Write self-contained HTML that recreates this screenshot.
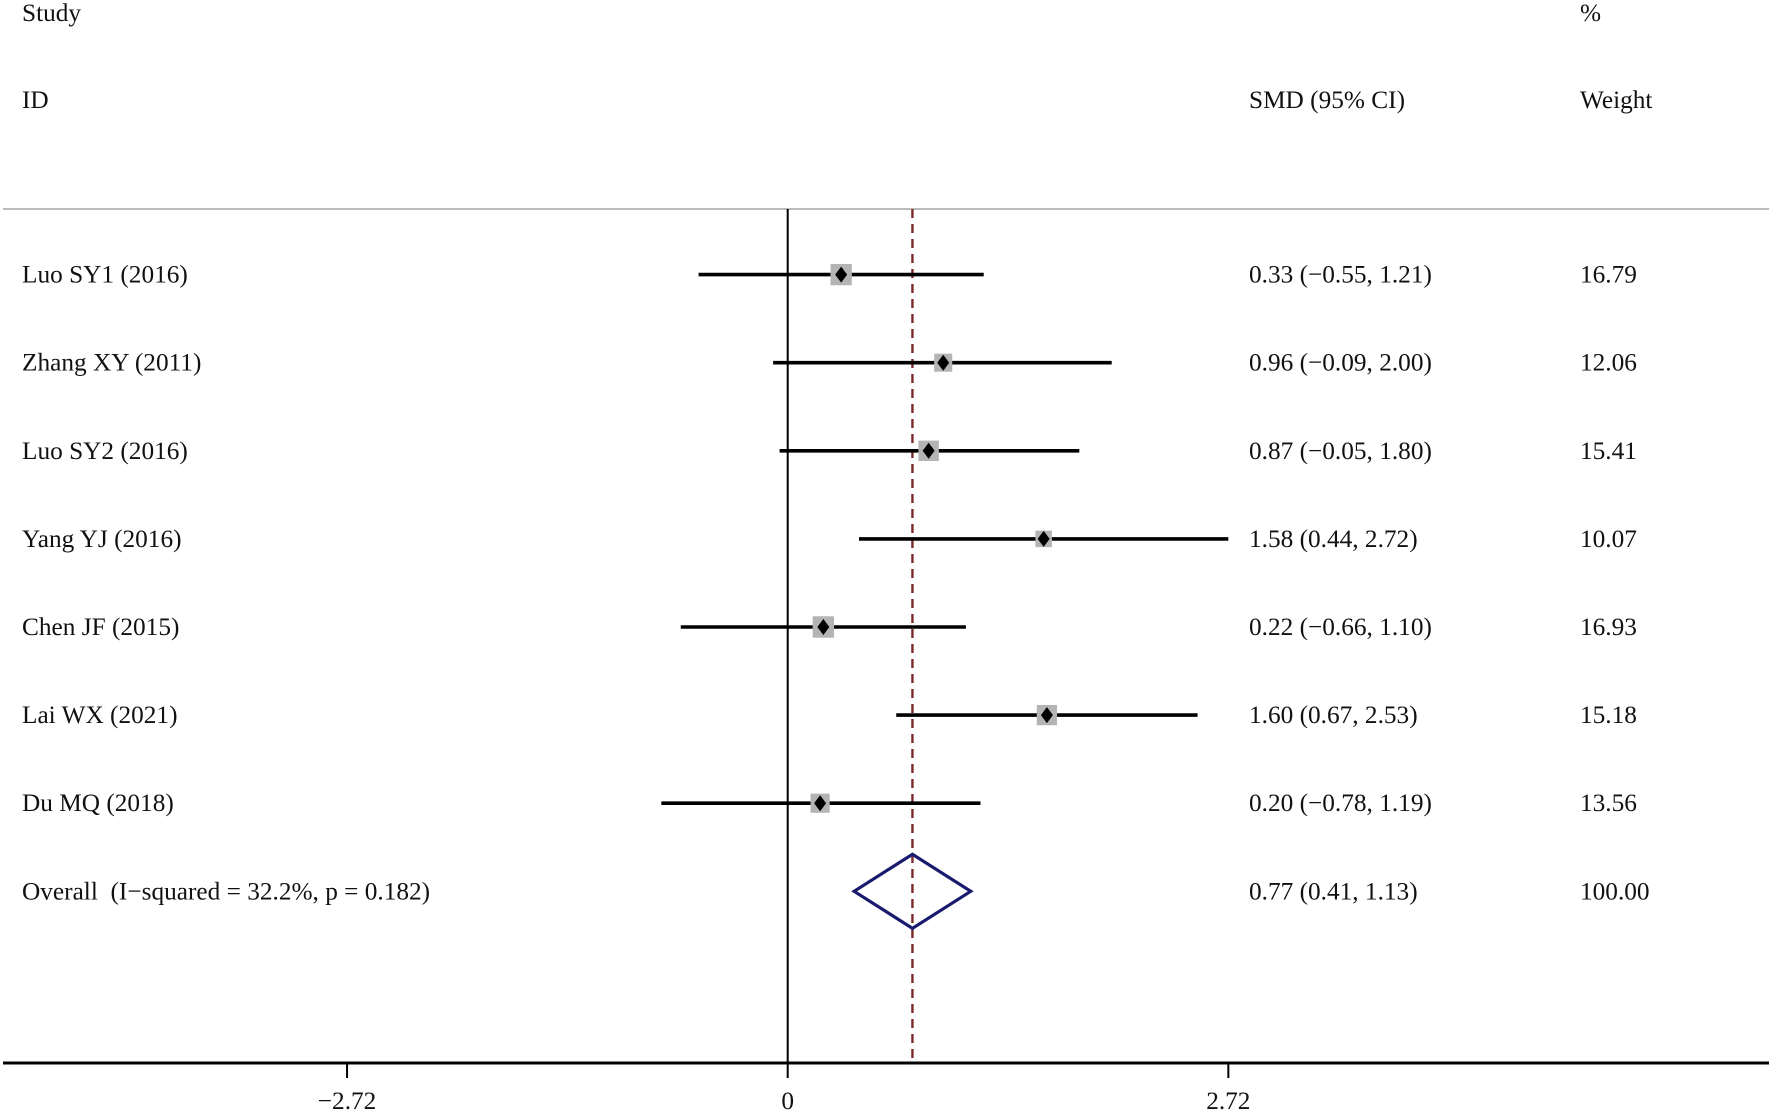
<!DOCTYPE html>
<html><head><meta charset="utf-8"><style>
html,body{margin:0;padding:0;background:#fff;}
svg{display:block;}
text{font-family:"Liberation Serif",serif;font-size:25.3px;fill:#111;}
</style></head><body>
<svg id="chart" width="1772" height="1113" viewBox="0 0 1772 1113">
<text x="22" y="21">Study</text>
<text x="22" y="108">ID</text>
<text x="1249" y="108">SMD (95% CI)</text>
<text x="1580" y="21">%</text>
<text x="1580" y="108">Weight</text>
<line x1="3" y1="209" x2="1769" y2="209" stroke="#bbb" stroke-width="2"/>
<g id="plot"></g>
</svg>
<script>
const studies=["Luo SY1 (2016)","Zhang XY (2011)","Luo SY2 (2016)","Yang YJ (2016)","Chen JF (2015)","Lai WX (2021)","Du MQ (2018)"];
const est=[0.33,0.96,0.87,1.58,0.22,1.60,0.20];
const lo=[-0.55,-0.09,-0.05,0.44,-0.66,0.67,-0.78];
const hi=[1.21,2.00,1.80,2.72,1.10,2.53,1.19];
const weights=["16.79","12.06","15.41","10.07","16.93","15.18","13.56"];
const ciText=["0.33 (\u22120.55, 1.21)","0.96 (\u22120.09, 2.00)","0.87 (\u22120.05, 1.80)","1.58 (0.44, 2.72)","0.22 (\u22120.66, 1.10)","1.60 (0.67, 2.53)","0.20 (\u22120.78, 1.19)"];
const overall=[0.77,0.41,1.13];
const overallLabel="Overall\u00a0\u00a0(I\u2212squared = 32.2%, p = 0.182)";
const overallText="0.77 (0.41, 1.13)";
const overallWeight="100.00";
const ticks=[-2.72,0,2.72];
const tickLabels=["\u22122.72","0","2.72"];

const NS="http://www.w3.org/2000/svg";
const g=document.getElementById('plot');
const X=v=>787.7+v*162.0;
const Y=i=>274.6+i*88.1;
function mk(t,a){const e=document.createElementNS(NS,t);for(const k in a)e.setAttribute(k,a[k]);g.appendChild(e);return e;}
let e;
e=mk('line',{x1:X(0),y1:209,x2:X(0),y2:1063,stroke:'#000','stroke-width':2});


e=mk('line',{x1:X(overall[0]),y1:209,x2:X(overall[0]),y2:1063,stroke:'#7a2a2a','stroke-width':2.4,'stroke-dasharray':'9,6'});


studies.forEach((s,i)=>{
 const y=Y(i);
 e=mk('line',{x1:X(lo[i]),y1:y,x2:X(hi[i]),y2:y,stroke:'#000','stroke-width':3.6});
 
 
 const side=5.2*Math.sqrt(parseFloat(weights[i]));
 e=mk('rect',{x:X(est[i])-side/2,y:y-side/2,width:side,height:side,fill:'#b4b4b4'});
 
 
 const cx=X(est[i]);
 e=mk('polygon',{points:`${cx},${y-8} ${cx+6},${y} ${cx},${y+8} ${cx-6},${y}`,fill:'#000'});
 
 
 e=mk('text',{x:22,y:y+8});e.textContent=s;
 
 
 e=mk('text',{x:1249,y:y+8});e.textContent=ciText[i];
 
 
 e=mk('text',{x:1580,y:y+8});e.textContent=weights[i];
 
 
});
const oy=Y(7);
e=mk('polygon',{points:`${X(overall[1])},${oy} ${X(overall[0])},${oy-37} ${X(overall[2])},${oy} ${X(overall[0])},${oy+37}`,fill:'none',stroke:'#1a1a6e','stroke-width':3.2});


e=mk('text',{x:22,y:oy+8});e.textContent=overallLabel;


e=mk('text',{x:1249,y:oy+8});e.textContent=overallText;


e=mk('text',{x:1580,y:oy+8});e.textContent=overallWeight;


e=mk('line',{x1:3,y1:1063,x2:1769,y2:1063,stroke:'#000','stroke-width':3});


ticks.forEach((t,i)=>{
 e=mk('line',{x1:X(t),y1:1063,x2:X(t),y2:1078,stroke:'#000','stroke-width':2});
 
 
 e=mk('text',{x:X(t),y:1109,'text-anchor':'middle'});e.textContent=tickLabels[i];
 
 
});
</script>
</body></html>
